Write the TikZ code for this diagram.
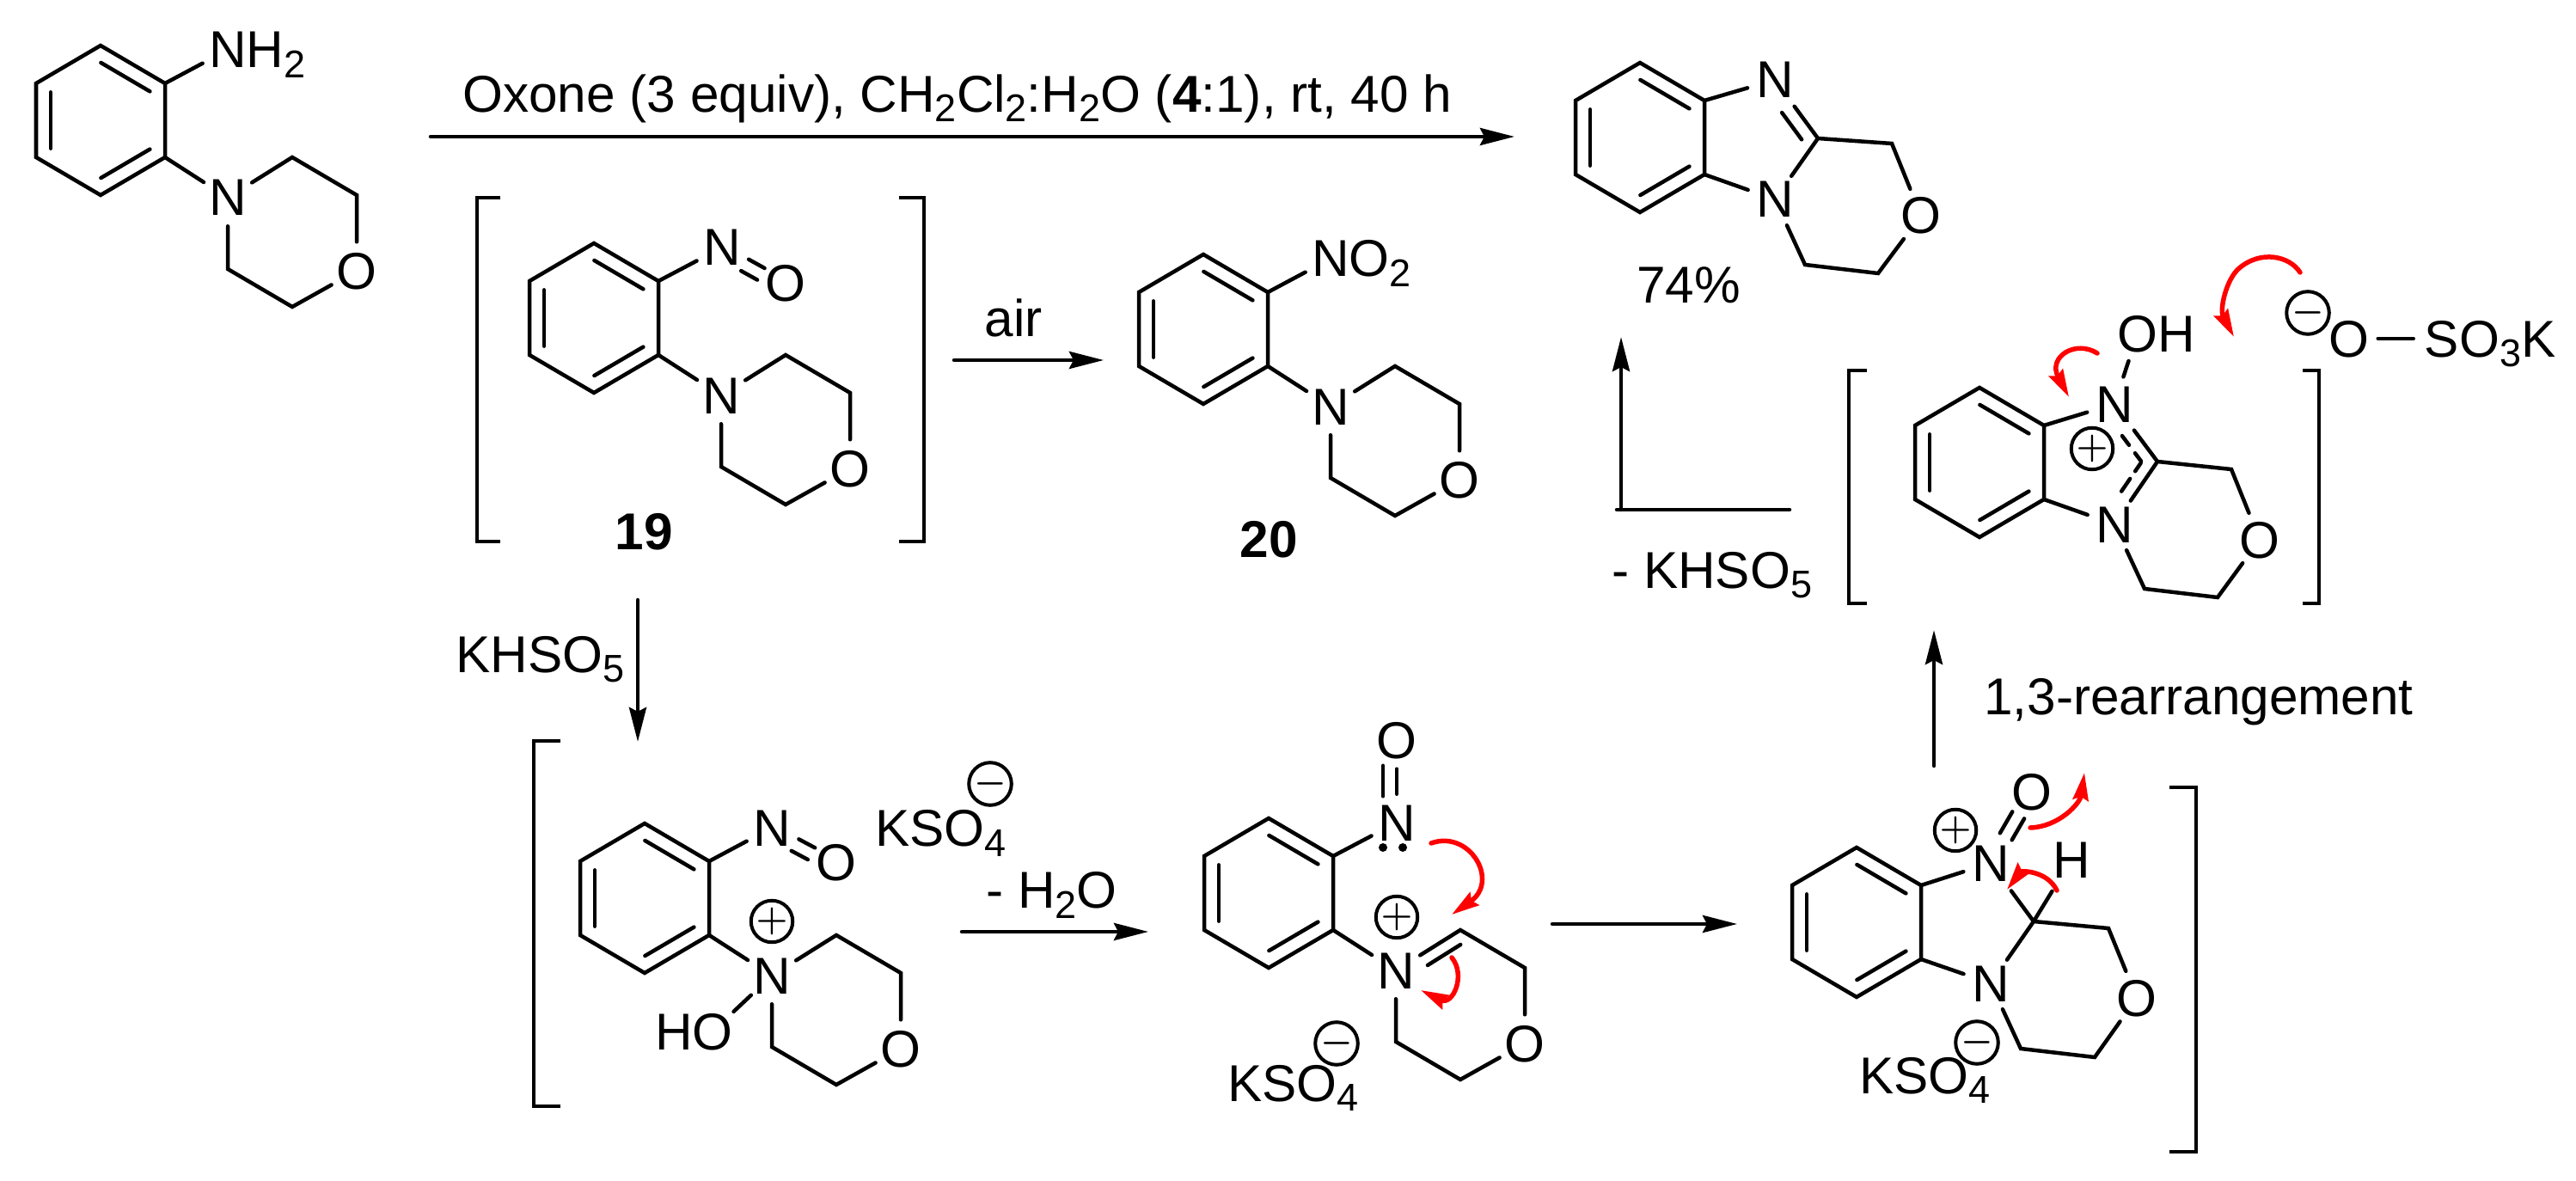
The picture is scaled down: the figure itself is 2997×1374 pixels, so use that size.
\documentclass[tikz,border=0pt]{standalone}
\usepackage{fontspec}
\setmainfont{Liberation Sans}
\usetikzlibrary{calc,arrows.meta}

\newcommand\schemefont{\fontsize{17.15}{20}\selectfont}
\newcommand\chemsub[1]{\raisebox{-0.11cm}{\fontsize{12.8}{14}\selectfont #1}}
% short line parallel to the bond from a to b
\newcommand\bondpart[5]{\draw ($(#1)!#3!(#2)!#5!90:(#2)$) -- ($(#1)!#4!(#2)!#5!90:(#2)$);}
\newcommand\benzring[3]{
  \begin{scope}[shift={(#2,#3)}]
    \coordinate (#1t) at (0,0);
    \coordinate (#1ur) at (75,44);
    \coordinate (#1lr) at (75,130);
    \coordinate (#1b) at (0,174);
    \coordinate (#1ll) at (-75,130);
    \coordinate (#1ul) at (-75,44);
  \end{scope}
  \draw (#1t) -- (#1ur) -- (#1lr) -- (#1b) -- (#1ll) -- (#1ul) -- cycle;
  \bondpart{#1ur}{#1t}{.12}{.88}{0.17cm}
  \bondpart{#1ul}{#1ll}{.12}{.88}{0.17cm}
  \bondpart{#1b}{#1lr}{.12}{.88}{0.17cm}
}
\newcommand\phmorph[3]{
  \benzring{#1}{#2}{#3}
  \begin{scope}[shift={(#2,#3)}]
    \path (148,177) node[atom] (#1n) {N};
    \path (298,262) node[atom] (#1o) {O};
    \coordinate (#1a1) at (223,130);
    \coordinate (#1a2) at (298,174);
    \coordinate (#1a3) at (223,304);
    \coordinate (#1a4) at (148,260);
  \end{scope}
  \draw (#1lr) -- (#1n) -- (#1a1) -- (#1a2) -- (#1o) -- (#1a3) -- (#1a4) -- (#1n);
}

\tikzset{
  atom/.style={circle,inner sep=0pt,minimum size=0.62cm,text height=0.42cm,text depth=0pt},
  txt/.style={inner sep=0pt,anchor=base west},
  lbl/.style={inner sep=0pt,anchor=base},
  charge/.style={circle,draw,inner sep=0pt,minimum size=0.45cm,line width=0.04cm,font=\fontsize{12}{12}\selectfont\boldmath},
  lone/.style={circle,fill,inner sep=0pt,minimum size=0.1cm},
  rxn/.style={-{Stealth[length=0.4cm,width=0.2cm,inset=0.05cm]}},
  bracket/.style={line cap=butt},
  redarrow/.style={red,line width=0.055cm,-{Stealth[length=0.32cm,width=0.18cm,inset=0.04cm]}},
}

\begin{document}
\begin{tikzpicture}[x=0.01cm,y=-0.01cm,line width=0.045cm,line cap=round,every node/.append style={font=\schemefont}]
  \useasboundingbox (0,0) rectangle (2997,1374);

  % starting material
  \phmorph{sm}{117}{53}
  \path (265,58) node[atom] (smx) {N\rlap{H\chemsub{2}}};
  \draw (smur) -- (smx);

  % 19
  \phmorph{ni}{691}{283}
  \path (840,288) node[atom] (nix) {N};
  \path (914,329) node[atom] (niy) {O};
  \draw (niur) -- (nix);
  \bondpart{nix}{niy}{.40}{.65}{0.03cm}
  \bondpart{nix}{niy}{.385}{.64}{-0.13cm}
  \path (749,640) node[lbl] (nilabel) {\textbf{19}};
  \draw[bracket] (582,230) -- (555,230) -- (555,630) -- (582,630);
  \draw[bracket] (1046,230) -- (1075,230) -- (1075,630) -- (1046,630);

  % 20
  \phmorph{no}{1400}{296}
  \path (1548,301) node[atom] (nox) {N\rlap{O\chemsub{2}}};
  \draw (nour) -- (nox);
  \path (1476,649) node[lbl] (nolabel) {\textbf{20}};

  % product
  \benzring{pr}{1908}{73}
  \path (2065,93) node[atom] (prx) {N};
  \path (2065,232) node[atom] (prn) {N};
  \path (2235,251) node[atom] (pro) {O};
  \coordinate (prc) at (2115,161);
  \coordinate (pra1) at (2201,167);
  \coordinate (pra2) at (2185,318);
  \coordinate (pra3) at (2100,308);
  \draw (prur) -- (prx);
  \draw (prlr) -- (prn);
  \draw[shorten <=0.05cm] (prx) -- (prc);
  \bondpart{prx}{prc}{.42}{.88}{-0.16cm}
  \draw (prn) -- (prc) -- (pra1) -- (pro) -- (pra2) -- (pra3) -- (prn);
  \path (1902,353) node[txt] (pryield) {74\%};

  % N-hydroxy intermediate
  \phmorph{hy}{750}{958}
  \path (898,963) node[atom] (hyx) {N};
  \path (973,1003) node[atom] (hyy) {O};
  \path (829,1200) node[atom] (hyh) {\llap{H}O};
  \path (898,1072) node[charge] (hyp) {$+$};
  \draw (hyur) -- (hyx);
  \bondpart{hyx}{hyy}{.40}{.65}{0.03cm}
  \bondpart{hyx}{hyy}{.385}{.64}{-0.13cm}
  \draw (hyn) -- (hyh);
  \path (1016,985) node[txt] (hys) {KSO\chemsub{4}};
  \path (1152,912) node[charge] (hym) {$-$};
  \draw[bracket] (652,862) -- (621,862) -- (621,1287) -- (652,1287);

  % iminium
  \phmorph{im}{1476}{952}
  \path (1625,957) node[atom] (imx) {N};
  \path (1625,861) node[atom] (imy) {O};
  \draw (imur) -- (imx);
  \draw (imx) -- (imy);
  \bondpart{imx}{imy}{.32}{.69}{0.16cm}
  \path (1609,986) node[lone] (imd1) {};
  \path (1632,986) node[lone] (imd2) {};
  \path (1625,1067) node[charge] (imp) {$+$};
  \bondpart{imn}{ima1}{.39}{.90}{-0.145cm}
  \path (1426,1281) node[txt] (ims) {KSO\chemsub{4}};
  \path (1555,1214) node[charge] (imm) {$-$};
  \draw[redarrow] (1665,981) .. controls (1710,965) and (1745,1025) .. (1689,1064);
  \draw[redarrow] (1689,1114) .. controls (1706,1135) and (1690,1170) .. (1653,1152);

  % cyclised
  \benzring{cy}{2160}{986}
  \path (2316,1004) node[atom] (cyx) {N};
  \path (2316,1144) node[atom] (cyn) {N};
  \path (2364,921) node[atom] (cyy) {O};
  \path (2486,1161) node[atom] (cyo) {O};
  \path (2410,1000) node[atom] (cyh) {H};
  \path (2275,966) node[charge] (cyp) {$+$};
  \coordinate (cyc) at (2366,1072);
  \coordinate (cya1) at (2453,1080);
  \coordinate (cya2) at (2437,1230);
  \coordinate (cya3) at (2351,1220);
  \draw (cyur) -- (cyx);
  \draw (cylr) -- (cyn);
  \bondpart{cyx}{cyy}{.37}{.67}{0.08cm}
  \bondpart{cyx}{cyy}{.37}{.67}{-0.08cm}
  \draw[shorten <=0.07cm] (cyx) -- (cyc);
  \draw[shorten >=0.1cm] (cyc) -- (cyh);
  \draw (cyn) -- (cyc) -- (cya1) -- (cyo) -- (cya2) -- (cya3) -- (cyn);
  \path (2161,1272) node[txt] (cys) {KSO\chemsub{4}};
  \path (2300,1213) node[charge] (cym) {$-$};
  \draw[redarrow] (2362,963) .. controls (2395,962) and (2420,935) .. (2425,899);
  \draw[redarrow] (2393,1036) .. controls (2382,1013) and (2352,1013) .. (2335,1035);
  \draw[bracket] (2524,916) -- (2555,916) -- (2555,1340) -- (2524,1340);

  % oxy intermediate
  \benzring{ox}{2303}{451}
  \path (2460,470) node[atom] (oxx) {N};
  \path (2460,610) node[atom] (oxn) {N};
  \path (2629,628) node[atom] (oxo) {O};
  \path (2487,388) node[atom] (oxh) {O\rlap{H}};
  \path (2434,522) node[charge] (oxp) {$+$};
  \coordinate (oxc) at (2510,537);
  \coordinate (oxa1) at (2596,546);
  \coordinate (oxa2) at (2580,695);
  \coordinate (oxa3) at (2495,685);
  \draw (oxur) -- (oxx);
  \draw (oxlr) -- (oxn);
  \draw (oxx) -- (oxh);
  \draw[shorten <=0.05cm] (oxx) -- (oxc);
  \bondpart{oxx}{oxc}{.42}{.58}{-0.15cm}
  \bondpart{oxx}{oxc}{.72}{.86}{-0.15cm}
  \bondpart{oxn}{oxc}{.41}{.61}{0.15cm}
  \bondpart{oxn}{oxc}{.73}{.86}{0.15cm}
  \draw (oxn) -- (oxc) -- (oxa1) -- (oxo) -- (oxa2) -- (oxa3) -- (oxn);
  \draw[bracket] (2172,431) -- (2151,431) -- (2151,702) -- (2172,702);
  \draw[bracket] (2679,431) -- (2698,431) -- (2698,702) -- (2679,702);
  \path (2733,394) node[atom] (kso) {O};
  \path (2841,394) node[atom] (ksu) {S\rlap{O\chemsub{3}K}};
  \path (2685,364) node[charge] (ksm) {$-$};
  \draw (kso) -- (ksu);
  \draw[redarrow] (2440,411) .. controls (2415,395) and (2382,415) .. (2407,462);
  \draw[redarrow] (2676,317) .. controls (2664,298) and (2630,290) .. (2604,313) .. controls (2590,326) and (2582,360) .. (2599,392);

  % arrows
  \coordinate (mainA) at (501,159);
  \coordinate (mainB) at (1762,159);
  \draw[rxn] (mainA) -- (mainB);
  \path (536,131) node[txt] (maintxt) {Oxone (3 equiv), CH\chemsub{2}Cl\chemsub{2}:H\chemsub{2}O (\textbf{4}:1), rt, 40 h};

  \coordinate (airA) at (1110,419);
  \coordinate (airB) at (1284,419);
  \draw[rxn] (airA) -- (airB);
  \path (1179,392) node[lbl] (airtxt) {air};

  \coordinate (oxoneA) at (742,698);
  \coordinate (oxoneB) at (742,863);
  \draw[rxn] (oxoneA) -- (oxoneB);
  \path (528,783) node[txt] (oxonetxt) {KHSO\chemsub{5}};

  \coordinate (waterA) at (1119,1084);
  \coordinate (waterB) at (1336,1084);
  \draw[rxn] (waterA) -- (waterB);
  \path (1145,1057) node[txt] (watertxt) {- H\chemsub{2}O};

  \coordinate (cycA) at (1806,1075);
  \coordinate (cycB) at (2021,1075);
  \draw[rxn] (cycA) -- (cycB);

  \coordinate (rearA) at (2250,891);
  \coordinate (rearB) at (2250,733);
  \draw[rxn] (rearA) -- (rearB);
  \path (2306,832) node[txt] (reartxt) {1,3-rearrangement};

  \coordinate (lossA) at (2082,593);
  \coordinate (lossB) at (1881,593);
  \coordinate (lossC) at (1886,593);
  \coordinate (lossD) at (1886,392);
  \draw (lossA) -- (lossB);
  \draw[rxn] (lossC) -- (lossD);
  \path (1873,685) node[txt] (losstxt) {- KHSO\chemsub{5}};
\end{tikzpicture}
\end{document}
